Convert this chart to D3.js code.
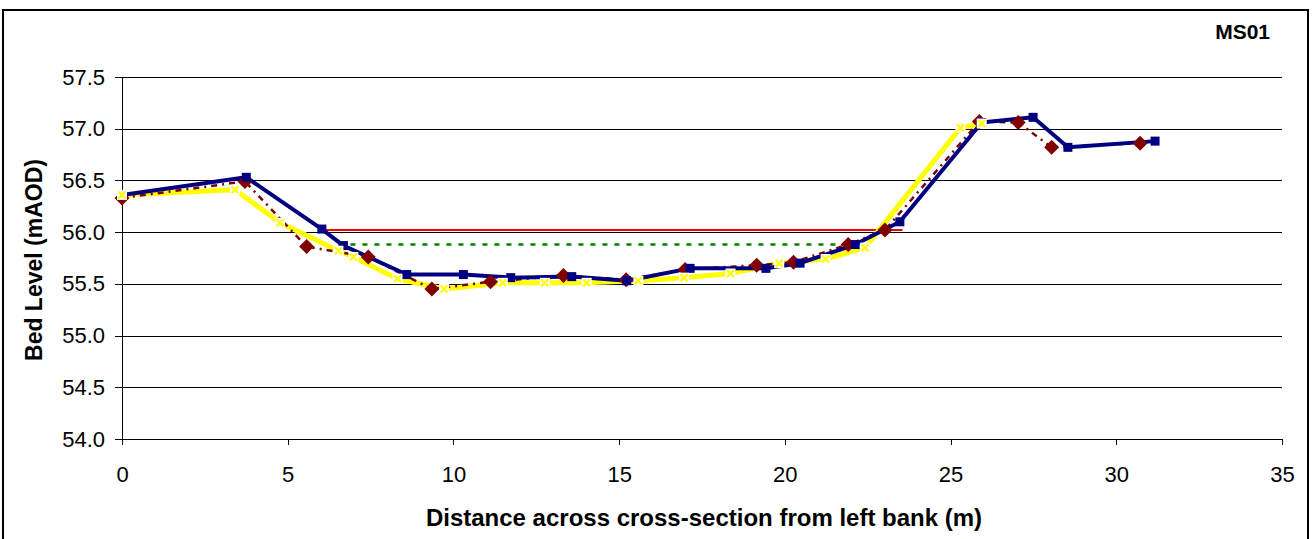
<!DOCTYPE html>
<html>
<head>
<meta charset="utf-8">
<script src="https://cdn.jsdelivr.net/npm/d3@7"></script>
<style>
  body { margin: 0; background: #fff; }
  svg { display: block; font-family: Arial, "Liberation Sans", sans-serif; }
</style>
</head>
<body>
<div id="chart"></div>
<script>
// cross-section MS01 survey data
const blueX = [0, 3.75, 6.03, 6.68, 8.59, 10.3, 11.73, 13.57, 15.23, 17.14, 19.43, 20.46, 22.12, 23.47, 25.94, 27.49, 28.54, 31.17];
const blueY = [56.36, 56.53, 56.03, 55.87, 55.59, 55.59, 55.56, 55.57, 55.53, 55.65, 55.65, 55.7, 55.88, 56.1, 57.06, 57.11, 56.82, 56.88];

const maroonX = [0, 3.71, 5.57, 7.43, 9.35, 11.12, 13.32, 15.21, 16.99, 19.15, 20.26, 21.91, 23.02, 25.87, 27.04, 28.05, 30.72];
const maroonY = [56.33, 56.49, 55.86, 55.76, 55.45, 55.52, 55.58, 55.54, 55.64, 55.68, 55.71, 55.88, 56.02, 57.07, 57.06, 56.82, 56.86];

const yellowX = [0, 3.41, 4.77, 6.53, 6.98, 8.31, 9.72, 11.49, 12.76, 14.02, 15.58, 16.96, 18.36, 19.83, 21.23, 22.42, 25.3, 25.94];
const yellowY = [56.36, 56.41, 56.09, 55.82, 55.76, 55.55, 55.45, 55.51, 55.51, 55.51, 55.53, 55.56, 55.6, 55.7, 55.74, 55.85, 57.01, 57.05];

// water levels
const redLevelX = [6.07, 23.55];
const redLevelY = [56.02, 56.02];
const greenLevelX = [6.53, 21.85];
const greenLevelY = [55.88, 55.88];

const xTicks = [0, 5, 10, 15, 20, 25, 30, 35];
const yTicks = [54.0, 54.5, 55.0, 55.5, 56.0, 56.5, 57.0, 57.5];

const width = 1313;
const height = 539;
const font = "Arial, 'Liberation Sans', sans-serif";

const zip = (xs, ys) => xs.map((x, i) => ({ x, y: ys[i] }));

function createChart() {
  const svg = d3.select("#chart")
    .append("svg")
    .attr("width", width)
    .attr("height", height);

  // outer frame
  svg.append("rect")
    .attr("x", 3).attr("y", 10)
    .attr("width", 1305).attr("height", 535)
    .attr("fill", "none")
    .attr("stroke", "#000")
    .attr("stroke-width", 2);

  const xScale = d3.scaleLinear().domain([0, 35]).range([122, 1282]);
  const yScale = d3.scaleLinear().domain([54, 57.5]).range([439, 77]);

  // gridlines
  svg.append("g")
    .attr("transform", "translate(122,0)")
    .call(d3.axisLeft(yScale).tickValues(yTicks).tickFormat("").tickSize(-1160))
    .call(g => g.select(".domain").remove())
    .call(g => g.selectAll("line").attr("stroke", "#000").attr("shape-rendering", "crispEdges"));

  // axes
  const xAxis = svg.append("g")
    .attr("transform", "translate(0,439)")
    .call(d3.axisBottom(xScale).tickValues(xTicks).tickSize(6).tickSizeOuter(0).tickPadding(21));
  xAxis.selectAll("text").attr("font-size", 22).attr("fill", "#000").attr("font-family", font);
  xAxis.selectAll("line, path").attr("stroke", "#000").attr("shape-rendering", "crispEdges");

  const yAxis = svg.append("g")
    .attr("transform", "translate(122,0)")
    .call(d3.axisLeft(yScale).tickValues(yTicks).tickFormat(d3.format(".1f")).tickSize(7).tickSizeOuter(0).tickPadding(10));
  yAxis.selectAll("text").attr("font-size", 22).attr("fill", "#000").attr("font-family", font);
  yAxis.selectAll("line, path").attr("stroke", "#000").attr("shape-rendering", "crispEdges");

  const line = d3.line().x(d => xScale(d.x)).y(d => yScale(d.y));

  // horizontal levels
  svg.append("path")
    .datum(zip(greenLevelX, greenLevelY))
    .attr("d", line)
    .attr("fill", "none")
    .attr("stroke", "#008000")
    .attr("stroke-width", 2.5)
    .attr("stroke-dasharray", "5,7");

  svg.append("path")
    .datum(zip(redLevelX, redLevelY))
    .attr("d", line)
    .attr("fill", "none")
    .attr("stroke", "#ff0000")
    .attr("stroke-width", 2);

  // survey lines
  svg.append("path")
    .datum(zip(yellowX, yellowY))
    .attr("d", line)
    .attr("fill", "none")
    .attr("stroke", "#ffff00")
    .attr("stroke-width", 5)
    .attr("stroke-linejoin", "round");

  svg.append("path")
    .datum(zip(maroonX, maroonY))
    .attr("d", line)
    .attr("fill", "none")
    .attr("stroke", "#800000")
    .attr("stroke-width", 2.5)
    .attr("stroke-dasharray", "6,5,2,5");

  svg.append("path")
    .datum(zip(blueX, blueY))
    .attr("d", line)
    .attr("fill", "none")
    .attr("stroke", "#000080")
    .attr("stroke-width", 4)
    .attr("stroke-linejoin", "round");

  // markers
  svg.append("g")
    .selectAll("path")
    .data(zip(maroonX, maroonY))
    .join("path")
    .attr("d", "M0,-7.5L7.5,0L0,7.5L-7.5,0Z")
    .attr("transform", d => `translate(${xScale(d.x)},${yScale(d.y)})`)
    .attr("fill", "#800000");

  svg.append("g")
    .selectAll("rect")
    .data(zip(blueX, blueY))
    .join("rect")
    .attr("x", d => xScale(d.x) - 4.5)
    .attr("y", d => yScale(d.y) - 4.5)
    .attr("width", 9)
    .attr("height", 9)
    .attr("fill", "#000080");

  const yMarks = svg.append("g")
    .selectAll("g")
    .data(zip(yellowX, yellowY))
    .join("g")
    .attr("transform", d => `translate(${xScale(d.x)},${yScale(d.y)})`);
  yMarks.append("rect")
    .attr("x", -5).attr("y", -5).attr("width", 10).attr("height", 10)
    .attr("fill", "#fff");
  yMarks.append("path")
    .attr("d", "M-3.5,-3.5L3.5,3.5M-3.5,3.5L3.5,-3.5")
    .attr("stroke", "#ffff00")
    .attr("stroke-width", 2.2);

  // titles
  svg.append("text")
    .attr("x", 1270).attr("y", 39)
    .attr("text-anchor", "end")
    .attr("font-size", 21)
    .attr("font-weight", "bold")
    .text("MS01");

  svg.append("text")
    .attr("transform", "translate(42,260) rotate(-90)")
    .attr("text-anchor", "middle")
    .attr("font-size", 23)
    .attr("font-weight", "bold")
    .text("Bed Level (mAOD)");

  svg.append("text")
    .attr("x", 704).attr("y", 526)
    .attr("text-anchor", "middle")
    .attr("font-size", 24)
    .attr("font-weight", "bold")
    .text("Distance across cross-section from left bank (m)");
}

createChart();
</script>
</body>
</html>
